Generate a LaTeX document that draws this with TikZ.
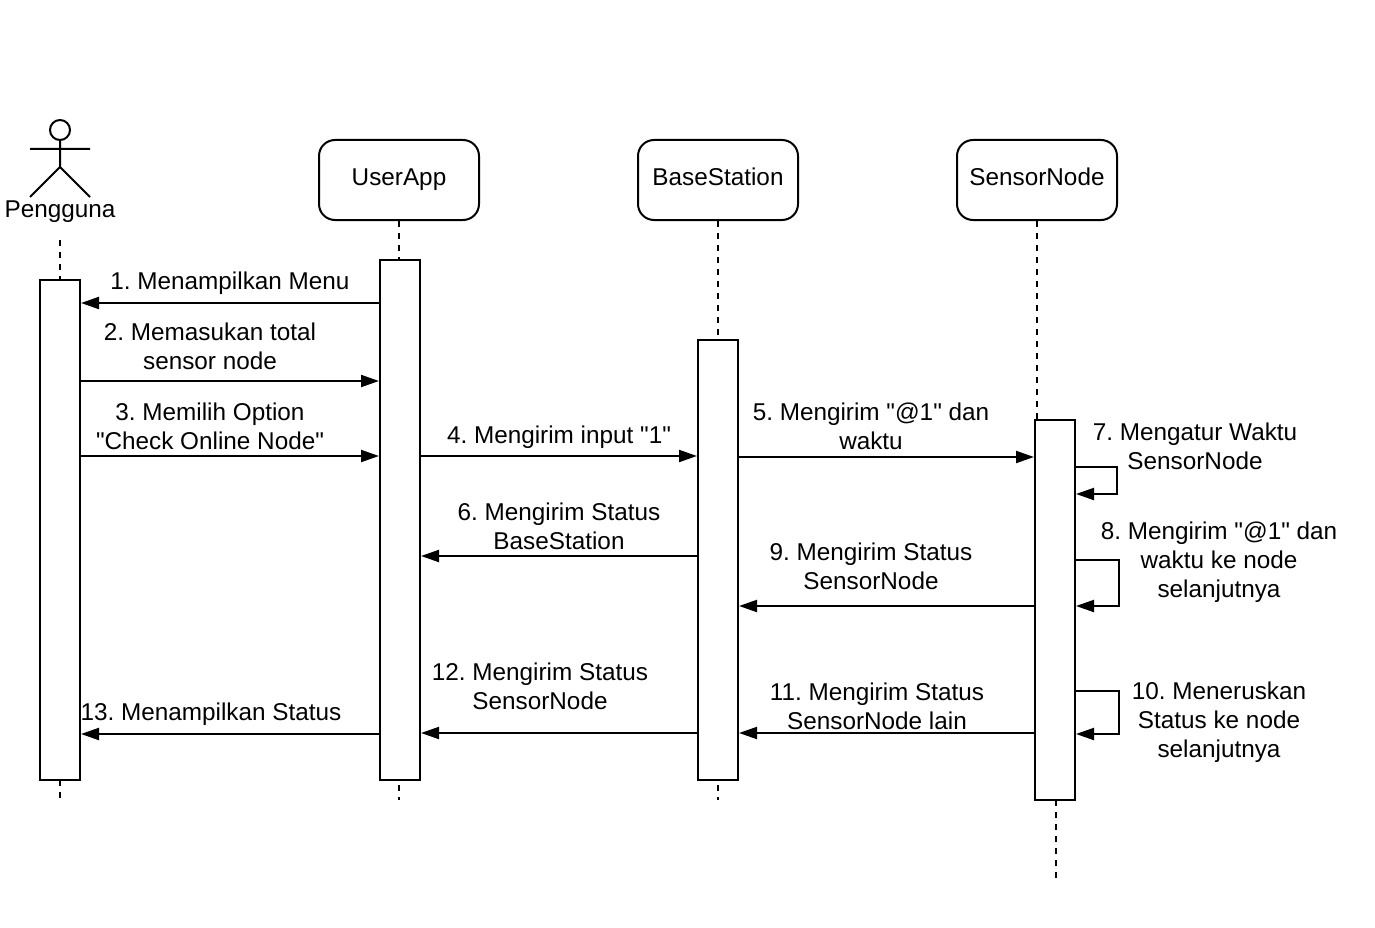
\documentclass[tikz,border=0pt]{standalone}
\usepackage{fontspec}
\newfontfamily\labfont{Liberation Sans}
\usetikzlibrary{arrows.meta}
\tikzset{
  x=1pt,y=-1pt,
  head/.style={draw=black,line width=2pt,rounded corners=16pt,fill=white,minimum width=160pt,minimum height=80pt,inner sep=0pt,text height=17pt,text depth=6pt,font=\labfont\frenchspacing\fontsize{24.3}{29}\selectfont},
  bar/.style={draw=black,line width=2pt,fill=white,inner sep=0pt},
  life/.style={line width=2pt,dash pattern=on 6pt off 6pt},
  msg/.style={line width=2pt,-{Triangle[length=18pt,width=12pt]}},
  lbl/.style={align=center,inner sep=0pt,font=\labfont\frenchspacing\fontsize{24.3}{29}\selectfont},
}
\begin{document}
\begin{tikzpicture}
\useasboundingbox (0,0) rectangle (1375,928);
\fill[white] (0,0) rectangle (1375,928);
% actor
\node[draw=black,line width=2pt,circle,minimum size=20pt,inner sep=0pt] (ahead) at (60,130) {};
\coordinate (aneck) at (60,167);
\coordinate (aarmL) at (30,149);
\coordinate (aarmR) at (90,149);
\coordinate (alegL) at (30,197);
\coordinate (alegR) at (90,197);
\draw[line width=2pt] (ahead.south) -- (aneck) (aarmL) -- (aarmR) (alegL) -- (aneck) -- (alegR);
\node[lbl] (pengguna) at (60,212) {Pengguna};
% heads
\node[head] (userapp) at (399,180) {UserApp};
\node[head] (basest) at (718,180) {BaseStation};
\node[head] (sensor) at (1037,180) {SensorNode};
% lifeline ends
\coordinate (t0) at (60,240);
\coordinate (t0b) at (60,800);
\coordinate (t1b) at (399,800);
\coordinate (t2b) at (718,800);
\coordinate (t3top) at (1037,420);
\coordinate (t3a) at (1056,800);
\coordinate (t3b) at (1056,880);
\draw[life] (t0) -- (t0b);
\draw[life] (userapp.south) -- (t1b);
\draw[life] (basest.south) -- (t2b);
\draw[life] (sensor.south) -- (t3top);
\draw[life] (t3a) -- (t3b);
% bars
\node[bar,minimum width=40pt,minimum height=500pt] (b0) at (60,530) {};
\node[bar,minimum width=40pt,minimum height=520pt] (b1) at (400,520) {};
\node[bar,minimum width=40pt,minimum height=440pt] (b2) at (718,560) {};
\node[bar,minimum width=40pt,minimum height=380pt] (b3) at (1055,610) {};
% y levels
\foreach \n/\y in {m1/303,m2/381,m3/456,m4/457,m6/556,m9/606,m12/733,m13/734}{\coordinate (\n) at (0,\y);}
\draw[msg] (b1.west |- m1) -- (b0.east |- m1);
\draw[msg] (b0.east |- m2) -- (b1.west |- m2);
\draw[msg] (b0.east |- m3) -- (b1.west |- m3);
\draw[msg] (b1.east |- m3) -- (b2.west |- m3);
\draw[msg] (b2.east |- m4) -- (b3.west |- m4);
\draw[msg] (b2.west |- m6) -- (b1.east |- m6);
\draw[msg] (b3.west |- m9) -- (b2.east |- m9);
\draw[msg] (b3.west |- m12) -- (b2.east |- m12);
\draw[msg] (b2.west |- m12) -- (b1.east |- m12);
\draw[msg] (b1.west |- m13) -- (b0.east |- m13);
% self messages
\coordinate (s7a) at (0,467); \coordinate (s7b) at (0,494);
\coordinate (s8a) at (0,560); \coordinate (s8b) at (0,606);
\coordinate (s10a) at (0,691); \coordinate (s10b) at (0,734);
\coordinate (xs7) at (1117,0); \coordinate (xs8) at (1119,0);
\draw[msg] (b3.east |- s7a) -- (xs7 |- s7a) -- (xs7 |- s7b) -- (b3.east |- s7b);
\draw[msg] (b3.east |- s8a) -- (xs8 |- s8a) -- (xs8 |- s8b) -- (b3.east |- s8b);
\draw[msg] (b3.east |- s10a) -- (xs8 |- s10a) -- (xs8 |- s10b) -- (b3.east |- s10b);
% labels
\node[lbl] (l1) at (230,283) {1. Menampilkan Menu};
\node[lbl] (l2) at (210,346) {2. Memasukan total\\sensor node};
\node[lbl] (l3) at (210,426) {3. Memilih Option\\"Check Online Node"};
\node[lbl] (l4) at (559,437) {4. Mengirim input "1"};
\node[lbl] (l5) at (871,426) {5. Mengirim "@1" dan\\waktu};
\node[lbl] (l6) at (559,526) {6. Mengirim Status\\BaseStation};
\node[lbl] (l7) at (1195,446) {7. Mengatur Waktu\\SensorNode};
\node[lbl] (l8) at (1219,562) {8. Mengirim "@1" dan\\waktu ke node\\selanjutnya};
\node[lbl] (l9) at (871,566) {9. Mengirim Status\\SensorNode};
\node[lbl] (l10) at (1219,722) {10. Meneruskan\\Status ke node\\selanjutnya};
\node[lbl] (l11) at (877,706) {11. Mengirim Status\\SensorNode lain};
\node[lbl] (l12) at (540,686) {12. Mengirim Status\\SensorNode};
\node[lbl] (l13) at (211,714) {13. Menampilkan Status};
\end{tikzpicture}
\end{document}
